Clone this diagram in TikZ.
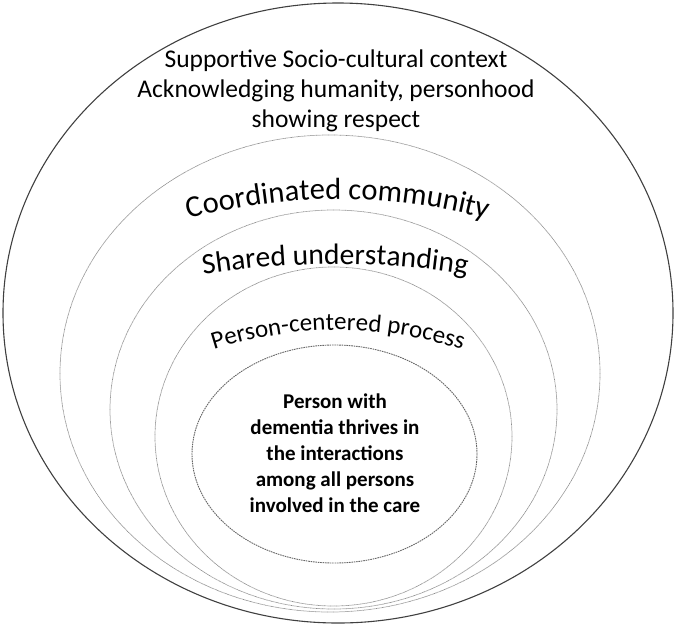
\documentclass[tikz,border=0pt]{standalone}
\usepackage{fontspec}
\setmainfont{Carlito}
\usetikzlibrary{decorations.text}
\begin{document}
\begin{tikzpicture}[x=1pt,y=-1pt,
  outerring/.style={draw=black!75, line width=1.1pt},
  ring/.style={draw=black!45, line width=0.7pt, dash pattern=on 0.7pt off 0.5pt},
  corering/.style={draw=black!60, line width=0.9pt, dash pattern=on 1.6pt off 0.8pt},
  toptext/.style={anchor=base, font=\fontsize{25.5}{31}\selectfont, inner sep=0pt},
  coretext/.style={align=center, font=\bfseries\fontsize{21}{26}\selectfont, inner sep=0pt}
]
\useasboundingbox (0,0) rectangle (676,627);
% rings
\draw[outerring] (338,313) ellipse [x radius=335, y radius=310];
\draw[ring] (330,373.5) ellipse [x radius=270, y radius=238.5];
\draw[ring] (333.5,409.5) ellipse [x radius=223.5, y radius=199.5];
\draw[ring] (333.5,436.5) ellipse [x radius=178.5, y radius=169.5];
\draw[corering] (334.5,454) ellipse [x radius=142.5, y radius=109];
% top text
\node[toptext] (ctx1) at (336,67) {Supportive Socio-cultural context};
\node[toptext] (ctx2) at (336,97) {Acknowledging humanity, personhood};
\node[toptext] (ctx3) at (336,127) {showing respect};
% curved labels
\path[decorate, decoration={text along path, text align=center,
  text={|\fontsize{30.5}{36}\selectfont|Coordinated community}}]
  (148,231.1) .. controls (274.7,188.3) and (401.3,188.3) .. (528,231.1);
\path[decorate, decoration={text along path, text align=center,
  text={|\fontsize{29.5}{34}\selectfont|Shared understanding}}]
  (165,281.5) .. controls (280.3,258.2) and (394.7,258.2) .. (505,281.5);
\path[decorate, decoration={text along path, text align=center,
  text={|\fontsize{25}{30}\selectfont|Person-centered process}}]
  (188,358.8) .. controls (288,320.4) and (388,320.4) .. (488,358.8);
% core text
\node[coretext] (core) at (335,453) {Person with\\dementia thrives in\\the interactions\\among all persons\\involved in the care};
\end{tikzpicture}
\end{document}
